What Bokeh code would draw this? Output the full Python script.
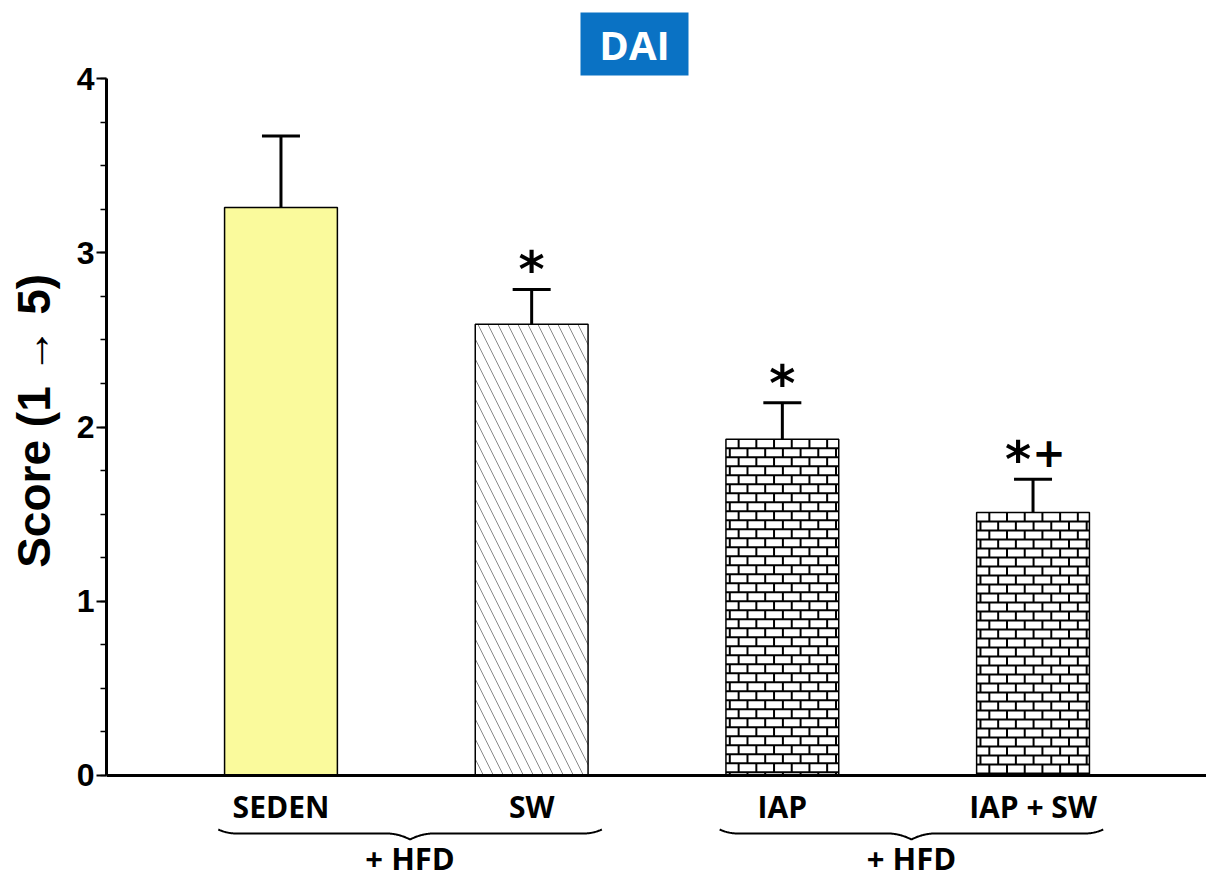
import numpy as np
from bokeh.plotting import figure
from bokeh.models import Range1d, FixedTicker, Span, Whisker, TeeHead, ColumnDataSource
from bokeh.core.properties import value
from bokeh.embed import file_html
from bokeh.resources import INLINE

# ---- data -------------------------------------------------------------
groups = ["SEDEN", "SW", "IAP", "IAP + SW"]
scores = [3.26, 2.59, 1.93, 1.51]
sem = [0.41, 0.20, 0.21, 0.19]
vs_seden = [False, True, True, True]   # "*"
vs_sw = [False, False, False, True]    # "+"
diet_sets = [["SEDEN", "SW"], ["IAP", "IAP + SW"]]
diet_label = "+ HFD"
y_ticks = [0, 1, 2, 3, 4]
y_label = "Score (1 \u2192 5)"
title_text = "DAI"

# bar styling per group ("brick" is drawn as mortar segments below)
bar_style = {
    "SEDEN": dict(fill_color="#fafa9c"),
    "SW": dict(fill_color="white", hatch_pattern="left_diagonal_line",
               hatch_color="#8a8a8a", hatch_scale=20, hatch_weight=1),
    "IAP": dict(fill_color="white"),
    "IAP + SW": dict(fill_color="white"),
}
brick_groups = ["IAP", "IAP + SW"]

# ---- layout -----------------------------------------------------------
W, H = 1206, 879
LEFT = 106
FRAME_W, FRAME_H = W - LEFT, H
X_START, X_END = 0.304, 4.692
Y_START, Y_END = -0.597, 4.448
PX_X = FRAME_W / (X_END - X_START)
PX_Y = FRAME_H / (Y_END - Y_START)
BAR_W = 0.45

xs = [i + 1 for i in range(len(groups))]
pos = dict(zip(groups, xs))

p = figure(width=W, height=H, x_range=Range1d(X_START, X_END),
           y_range=Range1d(Y_START, Y_END), output_backend="svg",
           toolbar_location=None, x_axis_location=None,
           min_border_left=LEFT, min_border_right=0, min_border_top=0,
           min_border_bottom=0)
p.outline_line_color = None
p.grid.visible = False
p.background_fill_color = "white"

# ---- y axis -----------------------------------------------------------
ax = p.yaxis[0]
ax.ticker = FixedTicker(ticks=y_ticks,
                        minor_ticks=list(np.arange(0, 4.001, 0.25)))
ax.bounds = (0, 4)
ax.axis_line_width = 3
ax.major_tick_line_width = 2
ax.minor_tick_line_width = 1.5
ax.major_tick_out = 10
ax.major_tick_in = 0
ax.minor_tick_out = 6
ax.minor_tick_in = 0
ax.major_label_text_font = "Liberation Sans"
ax.major_label_text_font_style = "bold"
ax.major_label_text_font_size = "32px"
ax.major_label_text_color = "black"
ax.major_label_standoff = 2
ax.axis_label = "\u00a0\u00a0\u00a0" + y_label
ax.axis_label_text_font = "Liberation Sans"
ax.axis_label_text_font_style = "bold"
ax.axis_label_text_font_size = "46px"
ax.axis_label_text_color = "black"
ax.axis_label_standoff = 14

# x axis baseline
p.add_layout(Span(location=0, dimension="width", line_color="black",
                  line_width=3))

# ---- bars -------------------------------------------------------------
for g, s in zip(groups, scores):
    p.vbar(x=[pos[g]], top=[s], bottom=0, width=BAR_W, line_color=None,
           **bar_style[g])

# brick mortar inside the brick-filled bars
ROW_PX, BRICK_PX, PHASE_PX = 9.0, 17.7, 12.7
mx0, my0, mx1, my1 = [], [], [], []
for g in brick_groups:
    top = scores[groups.index(g)]
    left = pos[g] - BAR_W / 2
    right = pos[g] + BAR_W / 2
    rh = ROW_PX / PX_Y
    bw = BRICK_PX / PX_X
    n_rows = int(np.ceil(top / rh))
    for k in range(n_rows):
        y_hi = top - k * rh
        y_lo = max(top - (k + 1) * rh, 0)
        if y_lo > 0:
            mx0.append(left); mx1.append(right)
            my0.append(y_lo); my1.append(y_lo)
        xj = left + (PHASE_PX + (k % 2) * BRICK_PX / 2) / PX_X
        xj -= bw * np.floor((xj - left) / bw)
        while xj < right - 1e-6:
            if xj > left + 1e-6:
                mx0.append(xj); mx1.append(xj)
                my0.append(y_lo); my1.append(y_hi)
            xj += bw
p.segment(x0=mx0, y0=my0, x1=mx1, y1=my1, line_color="black", line_width=2)

# bar outlines
p.vbar(x=xs, top=scores, bottom=0, width=BAR_W, fill_color=None,
       line_color="black", line_width=1.5)

bar_src = ColumnDataSource(dict(
    x=xs, top=scores, upper=[s + e for s, e in zip(scores, sem)]))
p.add_layout(Whisker(source=bar_src, base="x", lower="top", upper="upper",
                     dimension="height", line_width=3, line_color="black",
                     upper_head=TeeHead(size=38, line_width=3,
                                        line_color="black"),
                     lower_head=None))

# ---- significance marks -----------------------------------------------
star_x, star_y, star_off = [], [], []
plus_x, plus_y = [], []
for g, s, e, a, b in zip(groups, scores, sem, vs_seden, vs_sw):
    if a:
        star_x.append(pos[g]); star_y.append(s + e)
        star_off.append(-15 if b else 0)
    if b:
        plus_x.append(pos[g]); plus_y.append(s + e)
p.text(x=star_x, y=star_y, text=["*"] * len(star_x), x_offset=star_off,
       y_offset=10, text_align="center", text_baseline="bottom",
       text_font=value("DejaVu Sans"), text_font_style="bold",
       text_font_size="50px", text_color="black")
p.text(x=plus_x, y=plus_y, text=["+"] * len(plus_x), x_offset=16,
       y_offset=-12, text_align="center", text_baseline="bottom",
       text_font=value("DejaVu Sans"), text_font_style="bold",
       text_font_size="40px", text_color="black")

# ---- category labels, braces ------------------------------------------
p.text(x=xs, y=[-0.178] * len(xs), text=groups, text_align="center",
       text_baseline="middle", text_font=value("Open Sans"),
       text_font_style="bold", text_font_size="30px", text_color="black")


def brace(xa, xb, y0, rise=4.0, tip=6.0, curl=18.0):
    length = (xb - xa) * PX_X
    u = np.linspace(0, length, 600)
    mid = length / 2
    yp = (rise * np.clip(1 - u / curl, 0, None) ** 2
          + rise * np.clip(1 - (length - u) / curl, 0, None) ** 2
          - tip * np.clip(1 - np.abs(u - mid) / (curl * 1.3), 0, None) ** 2)
    return list(xa + u / PX_X), list(y0 + yp / PX_Y)


bx, by, cx = [], [], []
for members in diet_sets:
    xa = pos[members[0]] - 0.25
    xb = pos[members[-1]] + 0.28
    px_, py_ = brace(xa, xb, -0.333)
    bx.append(px_); by.append(py_)
    cx.append((xa + xb) / 2)
p.multi_line(xs=bx, ys=by, line_color="black", line_width=2)
p.text(x=cx, y=[-0.476] * len(cx), text=[diet_label] * len(cx),
       text_align="center", text_baseline="middle",
       text_font=value("Open Sans"), text_font_style="bold",
       text_font_size="31px", text_color="black")

# ---- title box --------------------------------------------------------
tx = X_START + (634 - LEFT) / PX_X
ty = Y_END - 43.5 / PX_Y
p.rect(x=[tx], y=[ty], width=108, height=63, width_units="screen",
       height_units="screen", fill_color="#0a72c4", line_color=None)
p.text(x=[tx], y=[ty], text=[title_text], text_align="center",
       text_baseline="middle", text_font=value("Open Sans"),
       text_font_style="bold", text_font_size="40px", text_color="white")

open("out.html", "w").write(file_html(p, INLINE))
